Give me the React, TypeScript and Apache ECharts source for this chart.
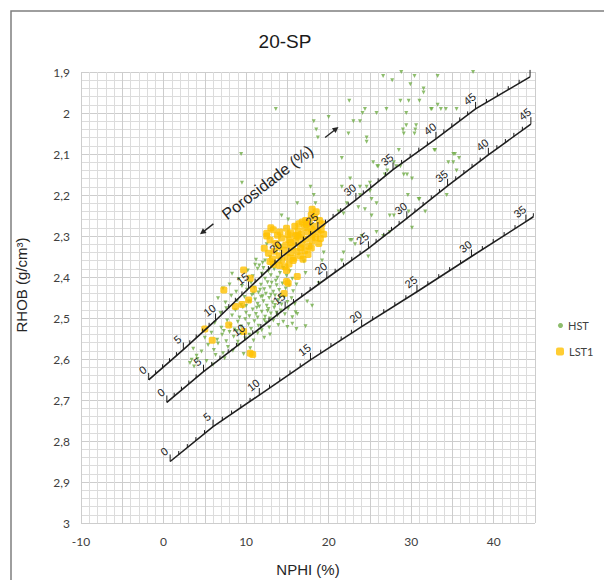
import React, { useEffect, useRef } from "react";
import * as echarts from "echarts";

// ---- axis ticks ----
const X_MIN = -10;
const X_MAX = 45;
const Y_MIN = 1.9;
const Y_MAX = 3.0;

// ---- lithology porosity scales (porosity %, NPHI, RHOB) ----
const SAND_PORO = [0, 5, 10, 15, 20, 25, 30, 35, 40, 45, 50];
const SAND_NPHI = [-1.8, 2.4, 6.3, 10.3, 14.3, 18.7, 23.3, 27.8, 33.0, 37.8, 44.4];
const SAND_RHOB = [2.651, 2.577, 2.506, 2.428, 2.351, 2.283, 2.212, 2.138, 2.063, 1.99, 1.912];
const SAND_LABELS = [0, 5, 10, 15, 20, 25, 30, 35, 40, 45];

const LIME_PORO = [0, 5, 10, 15, 20, 25, 30, 35, 40, 45];
const LIME_NPHI = [0.4, 4.84, 9.83, 14.73, 19.78, 24.82, 29.47, 34.41, 39.35, 44.5];
const LIME_RHOB = [2.706, 2.631, 2.554, 2.477, 2.403, 2.33, 2.257, 2.178, 2.102, 2.027];
const LIME_LABELS = [0, 5, 10, 15, 20, 25, 30, 35, 40, 45];

const DOLO_PORO = [0, 5, 10, 15, 20, 25, 30, 35, 36];
const DOLO_NPHI = [0.8, 6.0, 11.6, 17.8, 24.0, 30.7, 37.3, 43.9, 44.8];
const DOLO_RHOB = [2.85, 2.765, 2.688, 2.602, 2.521, 2.436, 2.35, 2.265, 2.253];
const DOLO_LABELS = [0, 5, 10, 15, 20, 25, 30, 35];

// ---- series: HST (NPHI, RHOB) ----
const HST: [number, number][] = [
  // high-porosity scatter
  [13.6, 1.99], [9.4, 2.1], [9.5, 2.17], [18.2, 2.02], [20.0, 2.01], [18.5, 2.04], [18.7, 2.06],
  [22.5, 1.97], [23.0, 2.02], [23.8, 2.02], [24.1, 2.0], [24.4, 1.99], [22.4, 2.05], [24.6, 2.06],
  [25.8, 2.0], [27.0, 1.99], [26.6, 1.91], [27.7, 1.92], [28.8, 1.9], [30.4, 1.91], [29.9, 1.93],
  [31.5, 1.94], [31.5, 1.95], [31.0, 1.97], [28.7, 1.97], [29.7, 1.97], [32.5, 1.99], [33.2, 1.98],
  [29.4, 2.0], [30.6, 2.03], [29.4, 2.03], [29.1, 2.05], [30.5, 2.04], [21.6, 2.11], [22.6, 2.16],
  [25.0, 2.17], [25.9, 2.13], [27.1, 2.14], [28.5, 2.09], [29.5, 2.15], [30.1, 2.16], [29.6, 2.2],
  [21.6, 2.18], [23.8, 2.18], [25.0, 2.19], [17.8, 2.18], [18.2, 2.2], [32.8, 2.09],
  [33.2, 1.91], [37.5, 1.9], [32.4, 1.99], [33.6, 1.99], [34.2, 1.99], [35.5, 1.99], [24.6, 2.07],
  [29.0, 2.04], [30.4, 2.05], [32.9, 2.09], [35.1, 2.1], [35.1, 2.12], [35.8, 2.11], [25.4, 2.12],
  [26.0, 2.13], [26.8, 2.15], [27.9, 2.12], [28.2, 2.13], [28.7, 2.13], [29.1, 2.15], [30.9, 2.21],
  [34.5, 2.12], [35.5, 2.14], [34.3, 2.2], [24.6, 2.18], [25.2, 2.21], [23.8, 2.2],
  [29.7, 2.24], [31.0, 2.21], [31.7, 2.24], [27.9, 2.25], [27.4, 2.25], [30.1, 2.28], [35.3, 2.1],
  [16.2, 2.22], [14.3, 2.25], [15.1, 2.26], [21.2, 2.24], [22.2, 2.22], [21.8, 2.245], [23.6, 2.23],
  [24.4, 2.235], [25.8, 2.22], [25.2, 2.25], [25.8, 2.29], [24.0, 2.3], [22.6, 2.31], [23.2, 2.32],
  [24.8, 2.35], [21.6, 2.36], [19.2, 2.36], [19.4, 2.34], [18.8, 2.415], [17.4, 2.46], [17.2, 2.52],
  [16.2, 2.49], [18.0, 2.47], [18.4, 2.22], [12.5, 2.32], [12.3, 2.36], [11.1, 2.37], [17.2, 2.39],
  [22.8, 2.31], [21.8, 2.34], [27.4, 2.29], [26.6, 2.3],
  // dense band
  [11.2, 2.358], [12.0, 2.365], [12.9, 2.352], [13.6, 2.368], [14.2, 2.36], [11.6, 2.372], [13.1, 2.374], [17.0, 2.362],
  [8.3, 2.392], [9.1, 2.405], [10.2, 2.384], [10.8, 2.398], [11.4, 2.38], [11.9, 2.392], [12.3, 2.404], [12.7, 2.386],
  [13.0, 2.396], [13.4, 2.381], [13.8, 2.402], [14.1, 2.39], [14.5, 2.378], [14.9, 2.397], [15.3, 2.386], [15.6, 2.404],
  [12.1, 2.378], [13.6, 2.409],
  [7.2, 2.428], [8.0, 2.418], [8.8, 2.436], [9.5, 2.422], [10.1, 2.431], [10.6, 2.414], [11.0, 2.426], [11.5, 2.438],
  [11.8, 2.419], [12.2, 2.43], [12.6, 2.413], [12.9, 2.425], [13.3, 2.436], [13.7, 2.42], [14.0, 2.432], [14.4, 2.416],
  [14.8, 2.428], [15.2, 2.421], [15.7, 2.435], [16.1, 2.418], [10.9, 2.44], [12.4, 2.441],
  [6.6, 2.452], [7.5, 2.462], [8.2, 2.446], [8.9, 2.458], [9.4, 2.468], [9.8, 2.449], [10.3, 2.46], [10.7, 2.444],
  [11.1, 2.455], [11.4, 2.466], [11.8, 2.448], [12.1, 2.459], [12.5, 2.47], [12.8, 2.451], [13.2, 2.462], [13.5, 2.445],
  [13.9, 2.456], [14.3, 2.467], [14.6, 2.449], [15.0, 2.461], [15.5, 2.452], [15.9, 2.466], [10.0, 2.471], [13.0, 2.443],
  [6.9, 2.488], [7.6, 2.476], [8.3, 2.494], [8.7, 2.481], [9.2, 2.499], [9.6, 2.474], [10.0, 2.487], [10.4, 2.496],
  [10.8, 2.479], [11.2, 2.49], [11.6, 2.472], [11.9, 2.485], [12.3, 2.497], [12.7, 2.478], [13.0, 2.489], [13.4, 2.475],
  [13.8, 2.494], [14.2, 2.482], [14.7, 2.491], [15.1, 2.477], [15.6, 2.498], [16.0, 2.486], [11.4, 2.499], [12.9, 2.501],
  [6.2, 2.512], [7.0, 2.524], [7.7, 2.506], [8.1, 2.518], [8.6, 2.528], [9.0, 2.509], [9.4, 2.521], [9.9, 2.503],
  [10.3, 2.515], [10.6, 2.527], [11.0, 2.508], [11.5, 2.519], [11.9, 2.53], [12.4, 2.511], [12.8, 2.523], [13.3, 2.506],
  [13.9, 2.517], [14.5, 2.509], [15.0, 2.522], [15.6, 2.514], [16.1, 2.527], [8.9, 2.532],
  [5.0, 2.548], [5.8, 2.536], [6.5, 2.553], [7.1, 2.541], [7.6, 2.557], [8.0, 2.534], [8.5, 2.546], [9.0, 2.558],
  [9.4, 2.538], [9.9, 2.55], [10.4, 2.541], [10.9, 2.555], [11.4, 2.537], [12.2, 2.548], [12.9, 2.54], [7.3, 2.532],
  [3.6, 2.575], [4.6, 2.582], [5.4, 2.566], [6.1, 2.578], [6.6, 2.562], [7.2, 2.586], [7.8, 2.571], [8.4, 2.58],
  [9.1, 2.566], [9.7, 2.588], [10.5, 2.574], [6.3, 2.59],
  [3.4, 2.602], [3.2, 2.61], [4.0, 2.592], [4.1, 2.6], [3.7, 2.618], [5.2, 2.605], [6.0, 2.614], [7.4, 2.598],
  [12.0, 2.447], [12.6, 2.483], [13.5, 2.468], [11.3, 2.475], [12.2, 2.505], [13.7, 2.487], [11.7, 2.431], [13.1, 2.414],
  [14.1, 2.447], [10.5, 2.46],
];

// ---- series: LST1 (NPHI, RHOB) ----
const LST1: [number, number][] = [
  [17.2, 2.262], [17.9, 2.249], [18.5, 2.241], [18.3, 2.255], [17.6, 2.268], [16.8, 2.266], [18.9, 2.262], [19.2, 2.27],
  [16.4, 2.27], [18.0, 2.235],
  [13.3, 2.285], [14.1, 2.29], [12.5, 2.293], [14.9, 2.281], [15.4, 2.292], [15.9, 2.276], [16.3, 2.287], [16.7, 2.296],
  [17.1, 2.279], [17.5, 2.29], [17.9, 2.283], [18.3, 2.276], [18.7, 2.289], [19.1, 2.285], [19.4, 2.296], [16.0, 2.299],
  [17.3, 2.272], [15.1, 2.297], [13.8, 2.298], [18.0, 2.297],
  [12.9, 2.31], [13.6, 2.318], [14.3, 2.305], [14.8, 2.322], [15.2, 2.309], [15.6, 2.326], [16.0, 2.313], [16.4, 2.303],
  [16.8, 2.32], [17.2, 2.308], [17.6, 2.325], [18.0, 2.312], [18.4, 2.304], [18.8, 2.318], [19.0, 2.306], [15.4, 2.316],
  [16.6, 2.329], [17.9, 2.329], [14.0, 2.327], [16.2, 2.3],
  [12.7, 2.342], [13.4, 2.337], [14.0, 2.348], [14.6, 2.335], [15.0, 2.352], [15.4, 2.341], [15.8, 2.354], [16.2, 2.338],
  [16.6, 2.349], [17.1, 2.336], [17.5, 2.345], [13.2, 2.356], [14.3, 2.359], [15.7, 2.36], [16.9, 2.357],
  [12.9, 2.362], [13.3, 2.369], [14.7, 2.375], [14.0, 2.372], [15.2, 2.368], [12.5, 2.3], [13.0, 2.28], [12.2, 2.33],
  [9.7, 2.383], [10.5, 2.403], [7.3, 2.432], [10.9, 2.43], [10.3, 2.456], [8.7, 2.472], [9.5, 2.467], [14.9, 2.384],
  [16.2, 2.399], [15.1, 2.415], [14.6, 2.44], [7.9, 2.517], [5.0, 2.527], [5.9, 2.554], [10.5, 2.586], [10.8, 2.589],
  [9.7, 2.533], [14.9, 2.411],
];

const SERIES_NAMES = ["HST", "LST1"];
const TITLE = "20-SP";

const LITHO = [
  { poro: SAND_PORO, nphi: SAND_NPHI, rhob: SAND_RHOB, labels: SAND_LABELS },
  { poro: LIME_PORO, nphi: LIME_NPHI, rhob: LIME_RHOB, labels: LIME_LABELS },
  { poro: DOLO_PORO, nphi: DOLO_NPHI, rhob: DOLO_RHOB, labels: DOLO_LABELS },
];

const ARIAL = "'Liberation Sans', Arial, sans-serif";
const LATO = "Lato, 'Open Sans', sans-serif";
const INK = "#1f1f1f";

function renderLitho(_params: any, api: any) {
  const li = api.value(2);
  const line = LITHO[li];
  const pts = line.nphi.map((x: number, i: number) => api.coord([x, line.rhob[i]]));
  const children: any[] = [];
  children.push({
    type: "polyline",
    shape: { points: pts },
    style: { stroke: INK, lineWidth: 1.6, fill: null },
  });
  for (let i = 0; i < pts.length; i++) {
    const last = i === pts.length - 1;
    const steps = last ? 1 : line.poro[i + 1] - line.poro[i];
    for (let k = 0; k < steps; k++) {
      const por = line.poro[i] + k;
      const t = last ? 0 : k / steps;
      const x = last ? pts[i][0] : pts[i][0] + (pts[i + 1][0] - pts[i][0]) * t;
      const y = last ? pts[i][1] : pts[i][1] + (pts[i + 1][1] - pts[i][1]) * t;
      const len = por % 5 === 0 ? 7 : 3.5;
      children.push({
        type: "line",
        shape: { x1: x, y1: y, x2: x, y2: y - len },
        style: { stroke: INK, lineWidth: 1 },
      });
    }
    if (line.labels.indexOf(line.poro[i]) >= 0) {
      children.push({
        type: "text",
        x: pts[i][0] - 6,
        y: pts[i][1] - 10,
        rotation: 0.66,
        style: {
          text: String(line.poro[i]),
          fontSize: 11,
          fontFamily: ARIAL,
          fill: "#222",
          align: "center",
          verticalAlign: "middle",
        },
      });
    }
  }
  return { type: "group", children };
}

export default function App() {
  const ref = useRef<HTMLDivElement>(null);
  useEffect(() => {
    if (!ref.current) return;
    const chart = echarts.init(ref.current, null, { renderer: "svg" });
    const u = [0.788, -0.616];
    const n = [0.616, 0.788];
    const T1 = [200, 234.3];
    const T2 = [338.5, 127];
    const head = (T: number[], dir: number) => {
      const b = [T[0] - dir * 6 * u[0], T[1] - dir * 6 * u[1]];
      return [T, [b[0] + 3 * n[0], b[1] + 3 * n[1]], [b[0] - 3 * n[0], b[1] - 3 * n[1]]];
    };
    chart.setOption({
      animation: false,
      backgroundColor: "#ffffff",
      grid: { left: 81, top: 72, width: 454, height: 451, containLabel: false },
      xAxis: {
        type: "value",
        min: X_MIN,
        max: X_MAX,
        interval: 5,
        axisLine: { show: false },
        axisTick: { show: false },
        axisLabel: {
          margin: 12,
          fontSize: 12,
          fontFamily: LATO,
          color: "#404040",
          formatter: (v: number) => (Math.round(v) % 10 === 0 ? String(Math.round(v)) : ""),
        },
        splitLine: { show: true, lineStyle: { color: "#cdcdcd", width: 1 } },
        minorTick: { show: false, splitNumber: 5 },
        minorSplitLine: { show: true, lineStyle: { color: "#dcdcdc", width: 1 } },
      },
      yAxis: {
        type: "value",
        inverse: true,
        min: Y_MIN,
        max: Y_MAX,
        interval: 0.1,
        axisLine: { show: false },
        axisTick: { show: false },
        axisLabel: {
          margin: 11,
          fontSize: 12,
          fontFamily: LATO,
          color: "#404040",
          formatter: (v: number) => String(Math.round(v * 10) / 10).replace(".", ","),
        },
        splitLine: { show: true, lineStyle: { color: "#cdcdcd", width: 1 } },
        minorTick: { show: false, splitNumber: 5 },
        minorSplitLine: { show: true, lineStyle: { color: "#dcdcdc", width: 1 } },
      },
      legend: [
        {
          data: [{ name: SERIES_NAMES[0], icon: "circle" }],
          left: 553,
          top: 315,
          itemWidth: 5,
          itemHeight: 5,
          itemGap: 6,
          textStyle: { fontSize: 11, fontFamily: LATO, color: "#404040" },
        },
        {
          data: [{ name: SERIES_NAMES[1], icon: "roundRect" }],
          left: 551,
          top: 341,
          itemWidth: 8,
          itemHeight: 8,
          textStyle: { fontSize: 11, fontFamily: LATO, color: "#404040" },
        },
      ],
      graphic: [
        {
          type: "rect",
          shape: { x: 11, y: 11, width: 620, height: 620 },
          style: { fill: null, stroke: "#7f7f7f", lineWidth: 1.5 },
          silent: true,
        },
        {
          type: "text",
          x: 285,
          y: 41,
          style: { text: TITLE, fontSize: 19, fontFamily: ARIAL, fill: "#1a1a1a", align: "center", verticalAlign: "middle" },
        },
        {
          type: "text",
          x: 21,
          y: 285,
          rotation: Math.PI / 2,
          style: { text: "RHOB (g/cm³)", fontSize: 15, fontFamily: ARIAL, fill: "#262626", align: "center", verticalAlign: "middle" },
        },
        {
          type: "text",
          x: 308,
          y: 569,
          style: { text: "NPHI (%)", fontSize: 15, fontFamily: ARIAL, fill: "#262626", align: "center", verticalAlign: "middle" },
        },
        {
          type: "text",
          x: 267.5,
          y: 182.5,
          rotation: 0.66,
          z: 100,
          style: { text: "Porosidade (%)", fontSize: 16, fontFamily: ARIAL, fill: "#262626", align: "center", verticalAlign: "middle" },
        },
        {
          type: "line",
          z: 100,
          shape: { x1: T1[0] + 17 * u[0], y1: T1[1] + 17 * u[1], x2: T1[0] + 4 * u[0], y2: T1[1] + 4 * u[1] },
          style: { stroke: "#262626", lineWidth: 1.4 },
        },
        { type: "polygon", z: 100, shape: { points: head(T1, -1) }, style: { fill: "#262626" } },
        {
          type: "line",
          z: 100,
          shape: { x1: T2[0] - 17 * u[0], y1: T2[1] - 17 * u[1], x2: T2[0] - 4 * u[0], y2: T2[1] - 4 * u[1] },
          style: { stroke: "#262626", lineWidth: 1.4 },
        },
        { type: "polygon", z: 100, shape: { points: head(T2, 1) }, style: { fill: "#262626" } },
      ],
      series: [
        {
          name: SERIES_NAMES[0],
          type: "scatter",
          data: HST,
          symbol: "triangle",
          symbolRotate: 180,
          symbolSize: 4,
          itemStyle: { color: "#70AD47" },
          z: 2,
        },
        {
          name: SERIES_NAMES[1],
          type: "scatter",
          data: LST1,
          symbol: "roundRect",
          symbolSize: 7,
          itemStyle: { color: "#FFC000" },
          z: 3,
        },
        {
          type: "custom",
          name: "litho",
          silent: true,
          z: 10,
          renderItem: renderLitho,
          encode: { x: 0, y: 1 },
          data: LITHO.map((l, i) => [l.nphi[0], l.rhob[0], i]),
        },
      ],
    });
    return () => chart.dispose();
  }, []);
  return (
    <div
      ref={ref}
      style={{ position: "fixed", left: 0, top: 0, width: 604, height: 580, background: "#fff" }}
    />
  );
}
